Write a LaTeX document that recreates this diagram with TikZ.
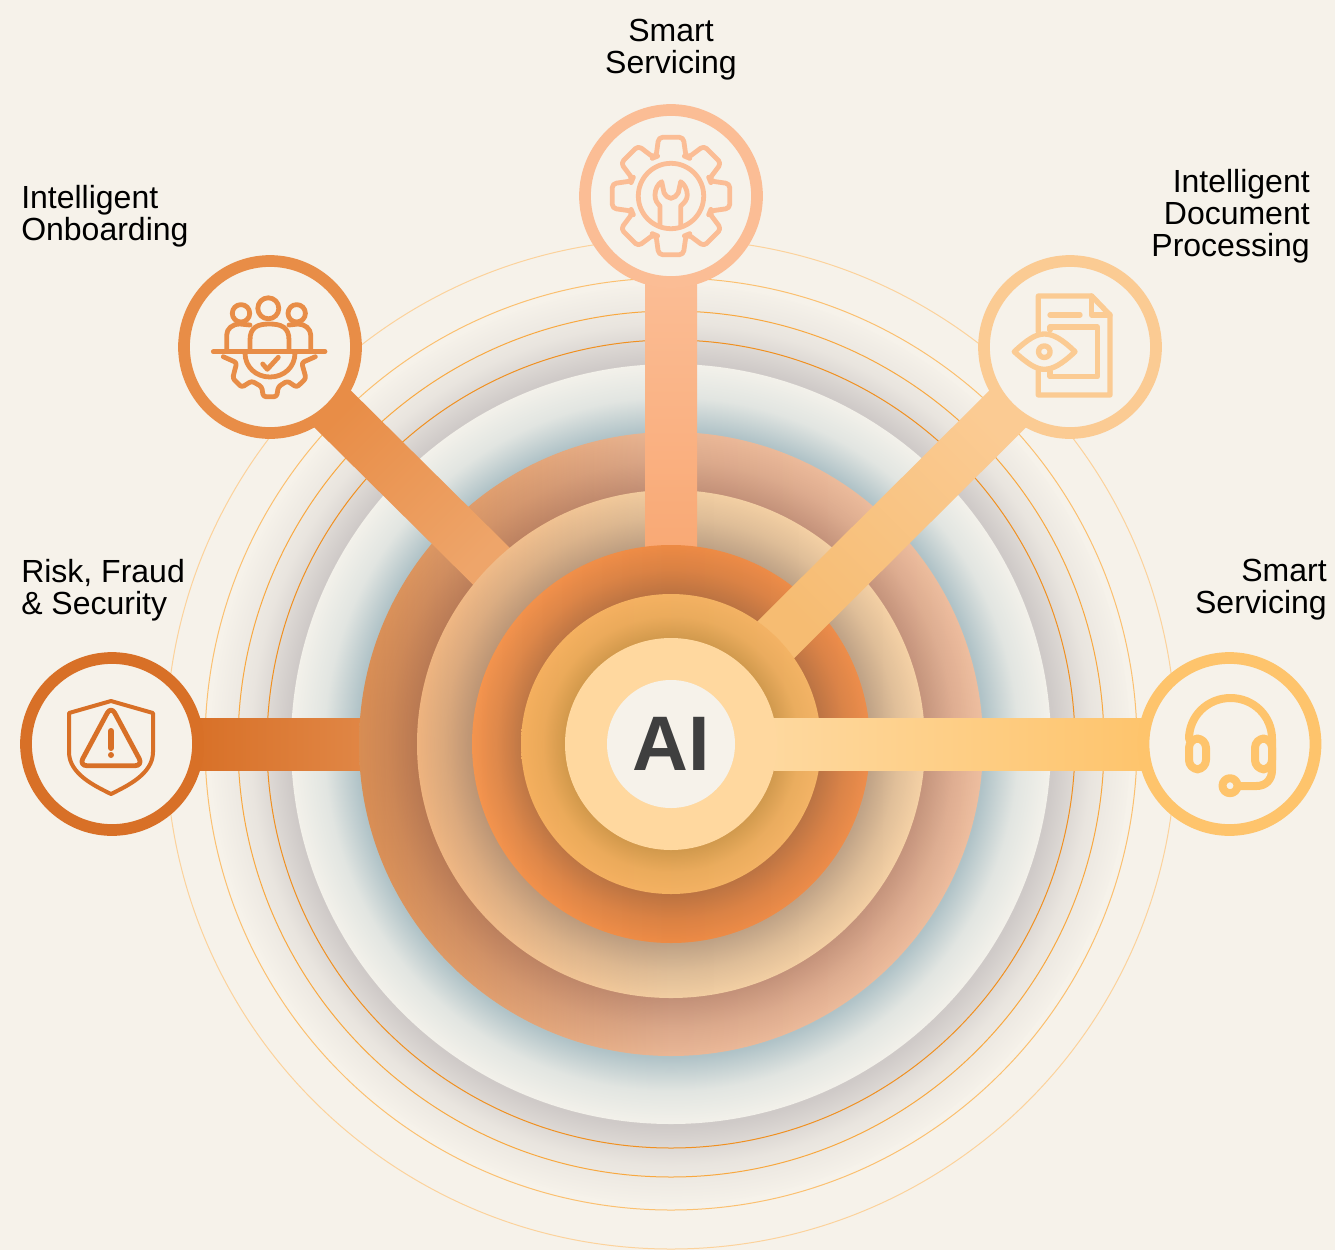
\documentclass[tikz,border=0pt]{standalone}
\usepackage{fontspec}
\setmainfont{Liberation Sans}
\usetikzlibrary{fadings,calc}
\definecolor{paper}{HTML}{F6F2EA}
\definecolor{halofill}{HTML}{F4F2EB}
\definecolor{riskcol}{HTML}{D87027}
\definecolor{onboardcol}{HTML}{E88D47}
\definecolor{servicecol}{HTML}{FBBD95}
\definecolor{documentcol}{HTML}{FBCB93}
\definecolor{supportcol}{HTML}{FEC46C}
\definecolor{inktext}{HTML}{3F3F3F}
\definecolor{greyshade}{RGB}{207,202,200}
\definecolor{tealshade}{RGB}{169,190,196}
\definecolor{orbitA}{RGB}{252,210,155}
\definecolor{orbitB}{RGB}{251,192,112}
\definecolor{orbitC}{RGB}{248,168,64}
\definecolor{orbitD}{RGB}{240,144,32}
\definecolor{peachL}{RGB}{217,142,84}
\definecolor{peachM}{RGB}{235,184,151}
\definecolor{peachR}{RGB}{239,191,160}
\definecolor{peachshade}{RGB}{104,55,50}
\definecolor{tanL}{RGB}{239,180,127}
\definecolor{tanM}{RGB}{243,207,163}
\definecolor{tanR}{RGB}{246,210,166}
\definecolor{tanshade}{RGB}{113,95,90}
\definecolor{orangeL}{RGB}{245,149,79}
\definecolor{orangeM}{RGB}{238,139,69}
\definecolor{orangeR}{RGB}{238,142,76}
\definecolor{orangeshade}{RGB}{115,80,60}
\definecolor{yellowL}{RGB}{245,176,95}
\definecolor{yellowR}{RGB}{244,180,102}
\definecolor{yellowshade}{RGB}{150,112,40}
\definecolor{palefill}{RGB}{255,216,159}
\definecolor{riskend}{RGB}{224,134,69}
\definecolor{onboardend}{RGB}{238,165,106}
\definecolor{serviceend}{RGB}{249,169,117}
\definecolor{documentend}{RGB}{246,188,114}
\definecolor{supportend}{RGB}{254,216,158}
\def \hubreach {60pt}
\def \spokehalf {19.5pt}
\newcommand{\declarering}[5]{%
    \pgfdeclareradialshading{#1shade}{\pgfpointorigin}{color(0bp)=(white!#4!black); color(#2bp)=(white!#4!black); color(#3bp)=(white!#5!black); color(25bp)=(black); color(50bp)=(black)}%
    \pgfdeclarefading{#1}{\pgfuseshading{#1shade}}}
\declarering{greyfade}{20.65}{22.8}{100}{32}
\declarering{tealfade}{20.53}{22.76}{90}{24}
\declarering{peachfade}{20.35}{22.67}{30}{12}
\declarering{tanfade}{19.59}{22.3}{40}{16}
\declarering{orangefade}{18.84}{21.9}{40}{16}
\declarering{yellowfade}{17.67}{21.3}{36}{10}
\newcommand{\spoke}[6]{%
    \shade[top color=#3, bottom color=#4, shading angle=#5]
        ($(#1)!\hubreach!(#2)!\spokehalf!90:(#2)$) -- ($(#1)!\hubreach!(#2)!\spokehalf!-90:(#2)$)
        -- ($(#2)!#6!(#1)!\spokehalf!90:(#1)$) -- ($(#2)!#6!(#1)!\spokehalf!-90:(#1)$) -- cycle;}
\tikzset{
    disc/.style={circle, inner sep=0pt, outer sep=0pt, minimum size=#1*0.75pt},
    hub/.style={circle, draw=#1, fill=paper, line width=8.8pt, inner sep=0pt, minimum size=129pt},
    orbit/.style={draw=#1, line width=0.75pt, fill=none},
    caption/.style={inner sep=0pt, font=\fontsize{24}{24}\selectfont, text=black},
    icon/.style={line width=3.6pt, line cap=round, line join=round, fill=none}
}
\pgfdeclarelayer{halo}
\pgfdeclarelayer{arrow1}
\pgfdeclarelayer{ring1}
\pgfdeclarelayer{arrow2}
\pgfdeclarelayer{ring2}
\pgfdeclarelayer{arrow3}
\pgfdeclarelayer{ring3}
\pgfdeclarelayer{arrow4}
\pgfdeclarelayer{ring4}
\pgfdeclarelayer{arrow5}
\pgfdeclarelayer{ring5}
\pgfsetlayers{halo,arrow1,ring1,arrow2,ring2,arrow3,ring3,arrow4,ring4,arrow5,ring5,main}
\begin{document}
\begin{tikzpicture}[x=0.75pt, y=-0.75pt]

\begin{pgfonlayer}{halo}
\fill[paper] (0,0) rectangle (1335,1250);
\useasboundingbox (0,0) rectangle (1335,1250);
\coordinate (centre) at (671,744);
\fill[greyshade, path fading=greyfade] (centre) circle (460);
\draw[orbit=orbitA] (centre) circle (505);
\draw[orbit=orbitB] (centre) circle (466);
\draw[orbit=orbitC] (centre) circle (433);
\draw[orbit=orbitD] (centre) circle (404);
\node[disc=760, fill=halofill] (halodisc) at (centre) {};
\fill[tealshade, path fading=tealfade] (centre) circle (380);
\end{pgfonlayer}

\begin{pgfonlayer}{ring1}
\node[disc=624, left color=peachL, right color=peachR, middle color=peachM] (peach) at (centre) {};
\fill[peachshade, path fading=peachfade] (centre) circle (312);
\end{pgfonlayer}

\begin{pgfonlayer}{ring2}
\node[disc=508, left color=tanL, right color=tanR, middle color=tanM] (tan) at (centre) {};
\fill[tanshade, path fading=tanfade] (centre) circle (254);
\end{pgfonlayer}

\begin{pgfonlayer}{ring3}
\node[disc=398, left color=orangeL, right color=orangeR, middle color=orangeM] (orange) at (centre) {};
\fill[orangeshade, path fading=orangefade] (centre) circle (199);
\end{pgfonlayer}

\begin{pgfonlayer}{ring4}
\node[disc=300, left color=yellowL, right color=yellowR] (yellow) at (centre) {};
\fill[yellowshade, path fading=yellowfade] (centre) circle (150);
\end{pgfonlayer}

\begin{pgfonlayer}{ring5}
\node[disc=212, fill=palefill] (pale) at (centre) {};
\end{pgfonlayer}

\node[disc=128, fill=paper, text=inktext, font=\fontsize{58}{58}\selectfont\bfseries] (core) at (centre) {AI};

\node[hub=riskcol] (risk) at (112,744) {};
\node[hub=onboardcol] (onboard) at (270,347) {};
\node[hub=servicecol] (service) at (671,196) {};
\node[hub=documentcol] (document) at (1070,347) {};
\node[hub=supportcol] (support) at (1229.5,744) {};

\begin{pgfonlayer}{arrow1}
\spoke{risk}{peach}{riskcol}{riskend}{90}{232pt}
\end{pgfonlayer}
\begin{pgfonlayer}{arrow2}
\spoke{onboard}{tan}{onboardcol}{onboardend}{45}{188pt}
\end{pgfonlayer}
\begin{pgfonlayer}{arrow3}
\spoke{service}{orange}{servicecol}{serviceend}{0}{147pt}
\end{pgfonlayer}
\begin{pgfonlayer}{arrow4}
\spoke{document}{yellow}{documentcol}{documentend}{-45}{110pt}
\end{pgfonlayer}
\begin{pgfonlayer}{arrow5}
\spoke{support}{pale}{supportcol}{supportend}{-90}{77pt}
\end{pgfonlayer}

% icons
\begin{scope}[shift={(risk.center)}, icon, draw=riskcol, line width=3pt]
    \draw (-1,-43) -- (41,-31) -- (41,8) .. controls (41,30) and (15,42) .. (-1,50) .. controls (-17,42) and (-43,30) .. (-43,8) -- (-43,-31) -- cycle;
    \draw[rounded corners=6pt, line width=3.6pt] (-1,-38) -- (31,21.7) -- (-33,21.7) -- cycle;
    \draw[line width=4.5pt] (-1,-13) -- (-1,4);
    \fill[riskcol] (-1,11) circle (3);
\end{scope}

\begin{scope}[shift={(onboard.center)}, icon, draw=onboardcol]
    \draw (-56.7,4.7) -- (55,4.7);
    \draw (-1.7,-38.7) circle (10.5);
    \draw (-29,-33.7) circle (8.7);
    \draw (26.7,-33.7) circle (8.7);
    \draw (-20,3) -- (-20,-7) .. controls (-20,-20) and (-12,-23) .. (-0.7,-23) .. controls (11,-23) and (19,-20) .. (19,-7) -- (19,3);
    \draw (-43.3,3) -- (-43.3,-12) .. controls (-43.3,-18) and (-38,-23) .. (-30,-23) -- (-20,-22);
    \draw (40.7,3) -- (40.7,-12) .. controls (40.7,-18) and (35,-23) .. (28,-23) -- (19,-22);
    \draw (-25,6) .. controls (-25,20) and (-14,30) .. (0,30) .. controls (14,30) and (25,20) .. (25,6);
    \draw (-7.3,17) -- (-2.7,22.3) -- (8.3,10.3);
    \draw[rounded corners=2pt] (-46.7,9.7) -- (-33.3,15.7) -- (-37.3,31.3) -- (-28.3,40.3) -- (-18.3,34) -- (-8.3,39.7) -- (-6.7,49.7) -- (6.7,49.7) -- (8.3,39.7) -- (17.3,34) -- (26.7,40.3) -- (36,31.3) -- (31.7,15.7) -- (45.3,9.7);
\end{scope}

\begin{scope}[shift={(service.center)}, icon, draw=servicecol]
    \draw[rounded corners=3pt] (-21:42) \foreach \a in {0,45,...,315} { -- (\a-11.8:60) -- (\a+11.8:60) -- (\a+21:42) -- (\a+24:42) } -- cycle;
    \draw (0,0) circle (32.7);
    \draw (-11,30) -- (-11,10) .. controls (-14,7) and (-16,4) .. (-16,-1) .. controls (-16,-7) and (-13,-12) .. (-9.3,-14.3) -- (-7,-3.3) .. controls (-5,0) and (-3,2.3) .. (0,2.3) .. controls (3,2.3) and (5,0) .. (7.3,-3.3) -- (9.7,-14.3) .. controls (13,-12) and (16.3,-7) .. (16.3,-1) .. controls (16.3,4) and (13,7) .. (9.7,10) -- (9.7,30);
\end{scope}

\begin{scope}[shift={(document.center)}, icon, draw=documentcol, line width=4pt]
    \draw (-31.7,-15.3) -- (-31.7,-51) -- (21.7,-51) -- (40,-32) -- (40,48) -- (-31.7,48) -- (-31.7,23.7);
    \draw (21.7,-51) -- (21.7,-32) -- (40,-32);
    \draw (-20,-32) -- (10,-32);
    \draw (-20,-17) -- (-20,-20) -- (27.3,-20) -- (27.3,29.7) -- (-20,29.7) -- (-20,24);
    \draw (-55.7,4.7) .. controls (-42,-8) and (-34,-13) .. (-25.7,-13) .. controls (-17,-13) and (-8,-8) .. (5,4.7) .. controls (-8,17) and (-17,22.3) .. (-25.7,22.3) .. controls (-34,22.3) and (-42,17) .. cycle;
    \draw (-25.7,4.7) circle (5.8);
\end{scope}

\begin{scope}[shift={(support.center)}, icon, draw=supportcol, line width=6pt]
    \draw (-40.5,-5) .. controls (-40.5,-28) and (-22,-46) .. (1,-46) .. controls (24,-46) and (42.5,-28) .. (42.5,-5) -- (42.5,26) .. controls (42.5,36) and (36,42) .. (27,42) -- (11,42);
    \draw[rounded corners=7pt] (-40.5,-5.5) rectangle (-23.5,25.3);
    \draw[rounded corners=7pt] (25.5,-5.5) rectangle (42.5,25.3);
    \draw (0.5,41.7) circle (7.5);
\end{scope}

% captions
\node[caption, anchor=north, align=center] (servicetext) at (671,19) {Smart\\Servicing};
\node[caption, anchor=north west, align=left] (onboardtext) at (21,185) {Intelligent\\Onboarding};
\node[caption, anchor=north west, align=left] (risktext) at (21,559) {Risk, Fraud\\\& Security};
\node[caption, anchor=north east, align=right] (documenttext) at (1310,169) {Intelligent\\Document\\Processing};
\node[caption, anchor=north east, align=right] (supporttext) at (1327,559) {Smart\\Servicing};

\end{tikzpicture}
\end{document}
